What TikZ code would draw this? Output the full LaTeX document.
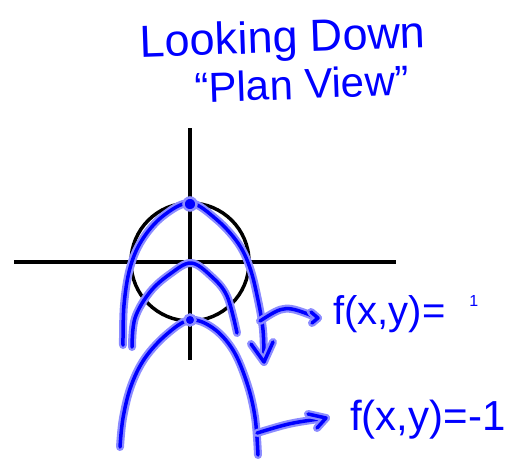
\documentclass[tikz,border=0pt]{standalone}
\usepackage{fontspec}
\setmainfont{Liberation Sans}
\begin{document}
\begin{tikzpicture}[x=1pt,y=-1pt,
  axis/.style={line width=3.5pt, black},
  pen/.style={draw=blue!45, line width=8pt, line cap=round, line join=round,
    postaction={draw=blue, line width=3.5pt}},
  dot/.style={fill=blue, draw=blue!45, line width=2.5pt},
  lab/.style={text=blue, inner sep=0pt, font=\fontsize{40}{40}\selectfont}]
\useasboundingbox (0,0) rectangle (522,459);
% title
\node[lab, font=\fontsize{45}{45}\selectfont, rotate=2] (t1) at (283,41) {Looking Down};
\node[lab, font=\fontsize{42}{42}\selectfont, rotate=2] (t2) at (302,84) {“Plan View”};
% axes
\coordinate (xl) at (14,262);
\coordinate (xr) at (396,262);
\coordinate (yt) at (190,128);
\coordinate (yb) at (190,360);
\draw[axis] (xl) -- (xr);
\draw[axis] (yt) -- (yb);
\node[circle, draw, line width=3.5pt, minimum size=118pt, inner sep=0pt] (c) at (190,262) {};
% level curves
\draw[pen] plot[smooth, tension=0.6] coordinates {(123,345) (124,305) (130,268) (142,240) (163,216) (190,203) (216,219) (238,243) (250,268) (258,300) (263,330) (264,360)};
\draw[pen] plot[smooth, tension=0.6] coordinates {(132,347) (135,318) (150,292) (170,274) (191,263) (211,276) (227,296) (237,333)};
\draw[pen] plot[smooth, tension=0.6] coordinates {(120,447) (123,418) (131,386) (145,358) (167,334) (190,320) (213,328) (233,350) (247,383) (255,417) (258,455)};
% arrowhead at end of outer curve
\coordinate (ah1) at (251,344);
\coordinate (ah2) at (264,362);
\coordinate (ah3) at (273,342);
\draw[pen] (ah1) -- (ah2) -- (ah3);
% dots
\node[circle, dot, minimum size=13pt, inner sep=0pt] (d1) at (190,204) {};
\node[circle, dot, minimum size=11pt, inner sep=0pt] (d2) at (190,320) {};
% labels
\node[lab, anchor=west] (l1) at (333,314) {f(x,y)=\hspace{0.6em}\raisebox{0.45em}{\fontsize{16}{16}\selectfont 1}};
\node[lab, anchor=west, font=\fontsize{42}{42}\selectfont] (l2) at (350,420) {f(x,y)=-1};
% connectors
\coordinate (s1) at (260,321);
\coordinate (e1) at (318,318);
\draw[pen] (s1) .. controls (285,305) .. (e1);
\draw[pen] ([shift={(-7,-6)}]e1) -- (e1) -- ([shift={(-6,5)}]e1);
\coordinate (s2) at (257,433);
\coordinate (e2) at (326,418);
\draw[pen] (s2) .. controls (290,423) .. (e2);
\draw[pen] ([shift={(-18,-4)}]e2) -- (e2) -- ([shift={(-9,10)}]e2);
\end{tikzpicture}
\end{document}
